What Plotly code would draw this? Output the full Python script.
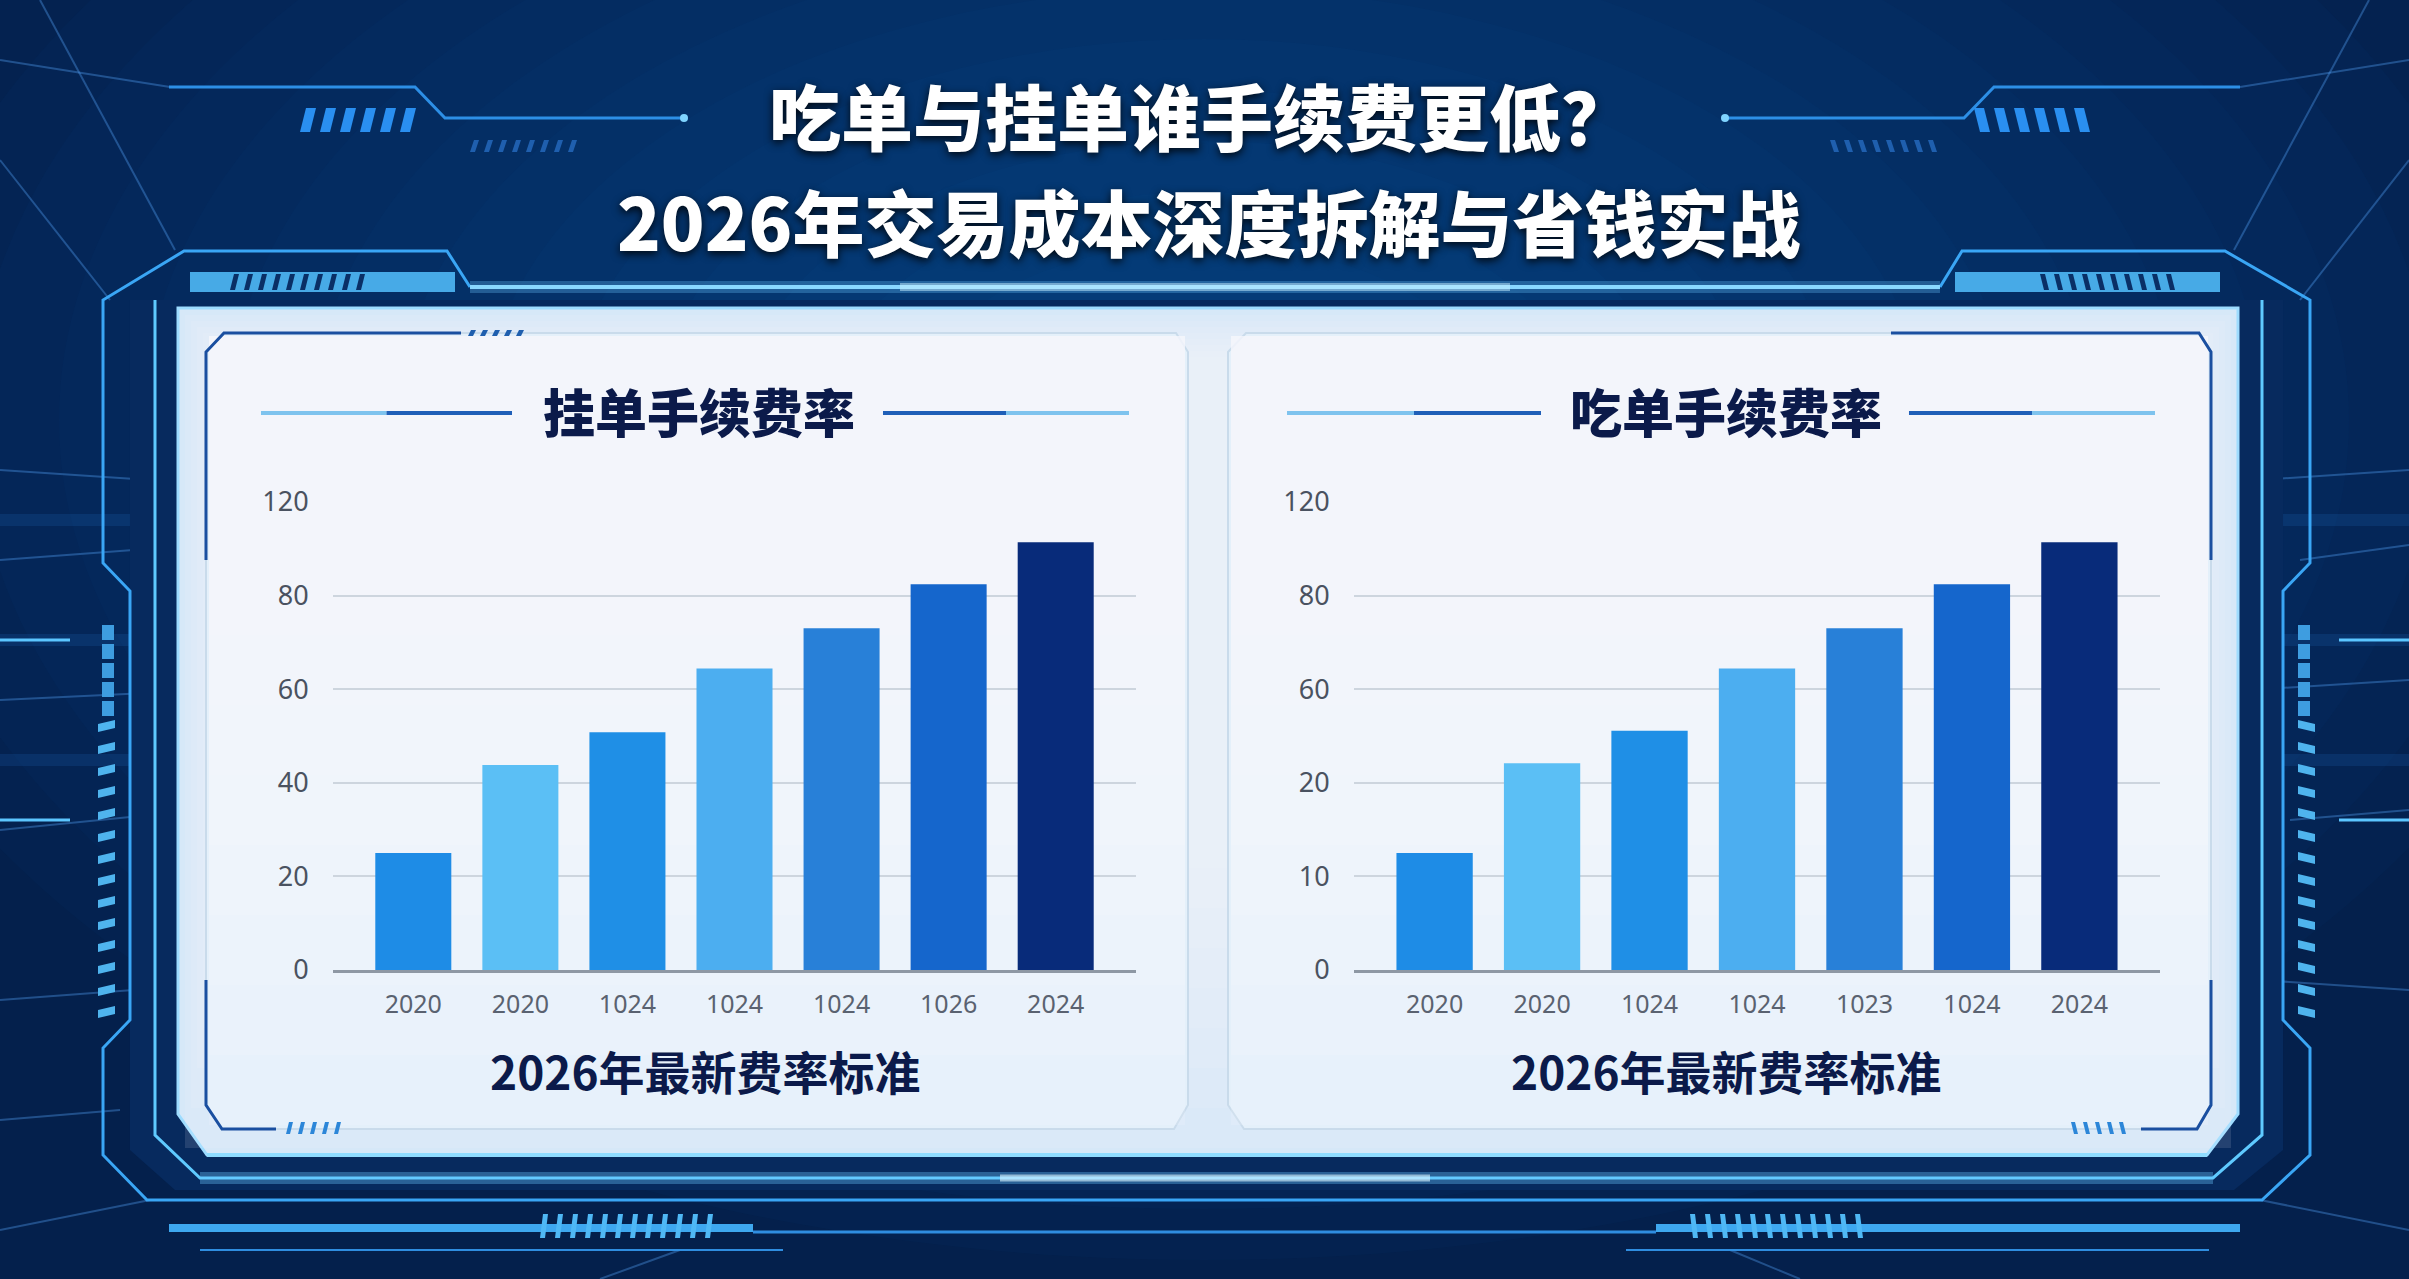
import plotly.graph_objects as go

W, H = 2409, 1279

# ---------------- data ----------------
maker_labels = ["2020", "2020", "1024", "1024", "1024", "1026", "2024"]
maker_values = [25.0, 43.8, 50.8, 64.4, 73.0, 82.4, 91.4]
taker_labels = ["2020", "2020", "1024", "1024", "1023", "1024", "2024"]
taker_values = [25.0, 44.2, 51.1, 64.4, 73.0, 82.4, 91.4]
ytick_vals = [0, 20, 40, 60, 80, 100]
maker_ytick_text = ["0", "20", "40", "60", "80", "120"]
taker_ytick_text = ["0", "10", "20", "60", "80", "120"]
bar_colors = ["#1e8ce6", "#5bbff5", "#1f8fe6", "#4caef0", "#2880d8", "#1566cc", "#082b7a"]

title_line1 = "吃单与挂单谁手续费更低？"
title_line2 = "2026年交易成本深度拆解与省钱实战"
maker_title = "挂单手续费率"
taker_title = "吃单手续费率"
subtitle = "2026年最新费率标准"

CJK = "Noto Sans CJK SC"


def px(x):
    return x / W


def py(y):
    return 1 - y / H


def path(points, close=False):
    s = "M " + " L ".join(f"{px(x):.5f},{py(y):.5f}" for x, y in points)
    return s + (" Z" if close else "")


shapes = []


def add_path(points, color=None, width=2, fill=None, close=False, opacity=1.0, layer="below"):
    shapes.append(dict(type="path", xref="paper", yref="paper", path=path(points, close),
                       line=dict(color=color or "rgba(0,0,0,0)", width=width if color else 0),
                       fillcolor=fill, opacity=opacity, layer=layer))


def add_rect(x0, y0, x1, y1, fill, color=None, width=0, opacity=1.0, layer="below"):
    shapes.append(dict(type="rect", xref="paper", yref="paper",
                       x0=px(x0), x1=px(x1), y0=py(y1), y1=py(y0),
                       fillcolor=fill, line=dict(color=color or "rgba(0,0,0,0)", width=width),
                       opacity=opacity, layer=layer))


def add_ellipse(cx, cy, rx, ry, fill, opacity):
    shapes.append(dict(type="circle", xref="paper", yref="paper",
                       x0=px(cx - rx), x1=px(cx + rx), y0=py(cy + ry), y1=py(cy - ry),
                       fillcolor=fill, line=dict(width=0), opacity=opacity, layer="below"))


# ---------------- background glow ----------------
for k in range(14):
    r = 1400 - k * 85
    add_ellipse(1204, 420, r, r * 0.6, "#1c6ad0", 0.035)
for cy in [520, 640, 760]:
    add_rect(0, cy - 6, 230, cy + 6, "#2a7fe0", opacity=0.15)
    add_rect(2180, cy - 6, 2409, cy + 6, "#2a7fe0", opacity=0.15)

# faint streak lines in background
streaks = [
    [(0, 470), (150, 480)], [(0, 560), (200, 545)], [(0, 700), (210, 690)],
    [(0, 830), (150, 815)], [(0, 1000), (200, 985)], [(0, 1120), (120, 1110)],
    [(2260, 480), (2409, 470)], [(2300, 560), (2409, 545)], [(2250, 690), (2409, 680)],
    [(2290, 820), (2409, 810)], [(2260, 980), (2409, 990)],
    [(40, 0), (175, 250)], [(0, 160), (110, 300)], [(2369, 0), (2234, 250)], [(2409, 160), (2300, 300)],
    [(0, 60), (170, 87)], [(2409, 60), (2240, 87)],
    [(0, 1230), (150, 1200)], [(2409, 1230), (2260, 1200)],
    [(600, 1279), (680, 1250)], [(1800, 1279), (1730, 1250)],
]
for pts in streaks:
    add_path(pts, color="rgba(90,170,255,0.35)", width=2)
for y in [640, 820]:
    add_path([(0, y), (70, y)], color="#5cc6ff", width=3)
    add_path([(2339, y), (2409, y)], color="#5cc6ff", width=3)

# ---------------- title decorations ----------------
add_path([(169, 87), (415, 87), (445, 118), (684, 118)], color="#2d8fe6", width=3)
add_path([(1725, 118), (1964, 118), (1994, 87), (2240, 87)], color="#2d8fe6", width=3)
add_ellipse(684, 118, 4, 4, "#7fd4ff", 1.0)
add_ellipse(1725, 118, 4, 4, "#7fd4ff", 1.0)
for i in range(6):
    x0 = 300 + i * 20
    add_path([(x0 + 6, 108), (x0 + 16, 108), (x0 + 10, 132), (x0, 132)], fill="#2a8ff0", close=True)
    x1 = 1974 + i * 20
    add_path([(x1, 108), (x1 + 10, 108), (x1 + 16, 132), (x1 + 6, 132)], fill="#2a8ff0", close=True)
for i in range(8):
    x0 = 470 + i * 14
    add_path([(x0 + 4, 140), (x0 + 9, 140), (x0 + 5, 152), (x0, 152)], fill="#1f5fae", close=True)
    x1 = 1830 + i * 14
    add_path([(x1, 140), (x1 + 5, 140), (x1 + 9, 152), (x1 + 4, 152)], fill="#1f5fae", close=True)

# ---------------- outer frame ----------------
add_path([(130, 300), (130, 1150), (175, 1190), (2234, 1190), (2283, 1150), (2283, 300)],
         fill="#072a5e", close=True)
outer = [(470, 287), (447, 251), (184, 251), (103, 300), (103, 563), (130, 591), (130, 1020),
         (103, 1048), (103, 1155), (147, 1200), (2262, 1200), (2310, 1155), (2310, 1048),
         (2283, 1020), (2283, 591), (2310, 563), (2310, 300), (2225, 251), (1962, 251), (1940, 287)]
add_path(outer, color="#3aa6f5", width=3)
add_path([(470, 287), (1940, 287)], color="rgba(110,200,255,0.3)", width=12)
add_path([(470, 287), (1940, 287)], color="#8ad8ff", width=4)
add_path([(900, 287), (1510, 287)], color="rgba(200,240,255,0.5)", width=8)
add_rect(190, 272, 455, 292, "#4fb8f5", opacity=0.9)
add_rect(1955, 272, 2220, 292, "#4fb8f5", opacity=0.9)
for i in range(10):
    x0 = 230 + i * 14
    add_path([(x0 + 4, 274), (x0 + 9, 274), (x0 + 5, 290), (x0, 290)], fill="#0a2f66", close=True)
    x1 = 2040 + i * 14
    add_path([(x1, 274), (x1 + 5, 274), (x1 + 9, 290), (x1 + 4, 290)], fill="#0a2f66", close=True)
add_path([(155, 300), (155, 1135), (200, 1178), (2213, 1178), (2262, 1135), (2262, 300)],
         color="#5fcaff", width=3)
for i in range(14):
    y = 720 + i * 22
    add_path([(98, y + 4), (115, y), (115, y + 8), (98, y + 12)], fill="#4fb4ee", close=True)
    add_path([(2298, y), (2315, y + 4), (2315, y + 12), (2298, y + 8)], fill="#4fb4ee", close=True)
for i in range(5):
    y = 625 + i * 19
    add_rect(102, y, 114, y + 15, "#3e9de0")
    add_rect(2298, y, 2310, y + 15, "#3e9de0")

# bottom structures
add_path([(200, 1178), (2213, 1178)], color="rgba(110,200,255,0.35)", width=12)
add_path([(1000, 1178), (1430, 1178)], color="rgba(220,245,255,0.6)", width=7)
add_path([(169, 1228), (753, 1228)], color="#3ea8f0", width=8)
add_path([(1656, 1228), (2240, 1228)], color="#3ea8f0", width=8)
add_path([(753, 1232), (1656, 1232)], color="#2f8de0", width=3)
add_path([(200, 1250), (783, 1250)], color="#2f8de0", width=2)
add_path([(1626, 1250), (2209, 1250)], color="#2f8de0", width=2)
for i in range(12):
    x0 = 540 + i * 15
    add_path([(x0 + 3, 1214), (x0 + 8, 1214), (x0 + 5, 1238), (x0, 1238)], fill="#4fb8f5", close=True)
    x1 = 1690 + i * 15
    add_path([(x1, 1214), (x1 + 5, 1214), (x1 + 8, 1238), (x1 + 3, 1238)], fill="#4fb8f5", close=True)

# ---------------- light panel ----------------
add_path([(178, 308), (2238, 308), (2238, 1114), (2207, 1155), (207, 1155), (178, 1114)],
         fill="#d6e8f8", color="#9edcff", width=3, close=True)
for k in range(8):
    add_rect(185 + k * 6, 315 + k * 6, 2231 - k * 6, 1148 - k * 40, "#f4f9fe", opacity=0.12)
add_path([(207, 1155), (2207, 1155)], color="#8fdcff", width=4)


# ---------------- cards ----------------
def card(x0, x1, accent_left):
    pts = [(x0 + 18, 333), (x1 - 12, 333), (x1, 352), (x1, 1105), (x1 - 14, 1129),
           (x0 + 16, 1129), (x0, 1105), (x0, 352)]
    add_path(pts, fill="#e4f0fa", color="#c9dbeb", width=2, close=True)
    for k in range(8):
        add_rect(x0 + 3, 336, x1 - 3, 1125 - k * 70, "#f7fbff", opacity=0.17)
    if accent_left:
        add_path([(x0, 560), (x0, 352), (x0 + 18, 333), (x0 + 255, 333)], color="#1a4fa0", width=3)
        add_path([(x0, 980), (x0, 1105), (x0 + 16, 1129), (x0 + 70, 1129)], color="#1a4fa0", width=3)
        for i in range(5):
            xx = x0 + 262 + i * 12
            add_path([(xx + 3, 330), (xx + 8, 330), (xx + 5, 336), (xx, 336)], fill="#1f5fae", close=True)
            xb = x0 + 80 + i * 12
            add_path([(xb + 3, 1122), (xb + 7, 1122), (xb + 4, 1134), (xb, 1134)], fill="#2c86d8", close=True)
    else:
        add_path([(x1 - 320, 333), (x1 - 12, 333), (x1, 352), (x1, 560)], color="#1a4fa0", width=3)
        add_path([(x1, 980), (x1, 1105), (x1 - 14, 1129), (x1 - 70, 1129)], color="#1a4fa0", width=3)
        for i in range(5):
            xb = x1 - 140 + i * 12
            add_path([(xb, 1122), (xb + 4, 1122), (xb + 7, 1134), (xb + 3, 1134)], fill="#2c86d8", close=True)


card(206, 1188, True)
card(1228, 2211, False)


def title_lines(xa0, xa1, xb0, xb1, y):
    mid_a = (xa0 + xa1) / 2
    mid_b = (xb0 + xb1) / 2
    add_path([(xa0, y), (mid_a, y)], color="#7ec3ee", width=4)
    add_path([(mid_a, y), (xa1, y)], color="#1f5fb8", width=4)
    add_path([(xb0, y), (mid_b, y)], color="#1f5fb8", width=4)
    add_path([(mid_b, y), (xb1, y)], color="#7ec3ee", width=4)


title_lines(261, 512, 883, 1129, 413)
title_lines(1287, 1541, 1909, 2155, 413)

# ---------------- figure ----------------
fig = go.Figure()
fig.add_trace(go.Bar(x=list(range(len(maker_values))), y=maker_values,
                     marker=dict(color=bar_colors, line=dict(width=0)),
                     width=0.71, xaxis="x", yaxis="y", hoverinfo="skip", showlegend=False))
fig.add_trace(go.Bar(x=list(range(len(taker_values))), y=taker_values,
                     marker=dict(color=bar_colors, line=dict(width=0)),
                     width=0.71, xaxis="x2", yaxis="y2", hoverinfo="skip", showlegend=False))

xa = dict(range=[-0.75, 6.75], tickmode="array", tickvals=list(range(7)), showgrid=False,
          zeroline=False, showline=True, linecolor="#8e98a4", linewidth=3, automargin=False,
          ticks="outside", ticklen=10, tickcolor="rgba(0,0,0,0)",
          tickfont=dict(family="Noto Sans", size=25, color="#5a6270"), fixedrange=True)
ya = dict(range=[0, 100], tickmode="array", tickvals=ytick_vals, showgrid=True,
          gridcolor="#cdd5de", gridwidth=2, zeroline=False, showline=False, automargin=False,
          ticks="outside", ticklen=18, tickcolor="rgba(0,0,0,0)",
          tickfont=dict(family="Noto Sans", size=27, color="#4a5260"), fixedrange=True)

fig.update_layout(
    template="none",
    width=W, height=H, margin=dict(l=0, r=0, t=0, b=0, pad=0, autoexpand=False),
    paper_bgcolor="#04204c", plot_bgcolor="rgba(0,0,0,0)",
    xaxis=dict(xa, domain=[px(333), px(1136)], ticktext=maker_labels, anchor="y"),
    yaxis=dict(ya, domain=[py(970), py(502)], ticktext=maker_ytick_text, anchor="x"),
    xaxis2=dict(xa, domain=[px(1354), px(2160)], ticktext=taker_labels, anchor="y2"),
    yaxis2=dict(ya, domain=[py(970), py(502)], ticktext=taker_ytick_text, anchor="x2"),
    shapes=shapes,
)

ann = [
    dict(text=title_line1, x=px(1201), y=py(113), size=72, color="#ffffff", weight=900,
         shadow="0px 3px 8px rgba(0,0,0,0.85)"),
    dict(text=title_line2, x=px(1208), y=py(219), size=72, color="#ffffff", weight=900,
         shadow="0px 3px 8px rgba(0,0,0,0.85)"),
    dict(text=maker_title, x=px(699), y=py(410), size=52, color="#0b1a4a", weight=900, shadow="none"),
    dict(text=taker_title, x=px(1726), y=py(410), size=52, color="#0b1a4a", weight=900, shadow="none"),
    dict(text=subtitle, x=px(705), y=py(1070), size=46, color="#0b1a4a", weight=700, shadow="none"),
    dict(text=subtitle, x=px(1726), y=py(1070), size=46, color="#0b1a4a", weight=700, shadow="none"),
]
for a in ann:
    fig.add_annotation(text=a["text"], x=a["x"], y=a["y"], xref="paper", yref="paper",
                       xanchor="center", yanchor="middle", align="center", showarrow=False, borderpad=0,
                       font=dict(family=CJK, size=a["size"], color=a["color"], weight=a["weight"],
                                 shadow=a["shadow"]))

fig.write_html("out.html")
